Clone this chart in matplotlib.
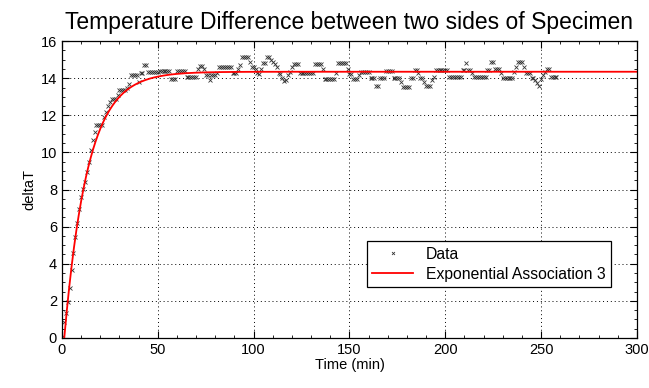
import numpy as np
import matplotlib
matplotlib.use("Agg")
import matplotlib.pyplot as plt
from matplotlib.ticker import MultipleLocator

# measured temperature difference, one reading per minute starting at t=0
delta_t = [
    0.07, 0.88, 1.33, 1.96, 2.68, 3.66, 4.56, 5.42, 6.21, 6.93,
    7.61, 8.01, 8.42, 8.96, 9.50, 10.13, 10.67, 11.10, 11.50, 11.50,
    11.50, 11.50, 11.90, 12.20, 12.50, 12.70, 12.86, 12.86, 12.86, 13.10,
    13.36, 13.36, 13.36, 13.36, 13.50, 13.70, 14.20, 14.20, 14.20, 14.20,
    13.80, 14.30, 14.30, 14.70, 14.70, 14.35, 14.35, 14.35, 14.35, 14.35,
    14.35, 14.40, 14.40, 14.40, 14.40, 14.40, 14.40, 13.95, 13.95, 13.95,
    14.40, 14.40, 14.40, 14.40, 14.40, 14.05, 14.05, 14.05, 14.05, 14.05,
    14.05, 14.50, 14.66, 14.66, 14.50, 14.20, 14.20, 13.90, 14.20, 14.20,
    14.20, 14.30, 14.60, 14.60, 14.60, 14.60, 14.60, 14.60, 14.60, 14.30,
    14.30, 14.30, 14.50, 14.70, 15.16, 15.16, 15.16, 15.16, 14.90, 14.60,
    14.60, 14.50, 14.30, 14.25, 14.50, 14.80, 14.80, 15.16, 15.16, 15.00,
    14.90, 14.75, 14.60, 14.30, 14.25, 14.00, 13.85, 13.90, 14.20, 14.35,
    14.60, 14.75, 14.75, 14.75, 14.30, 14.30, 14.30, 14.30, 14.30, 14.30,
    14.30, 14.30, 14.76, 14.76, 14.76, 14.76, 14.50, 13.94, 13.94, 13.94,
    13.94, 13.94, 13.94, 14.30, 14.80, 14.80, 14.80, 14.80, 14.80, 14.50,
    14.25, 14.25, 13.95, 13.95, 13.95, 14.20, 14.35, 14.35, 14.35, 14.35,
    14.35, 14.00, 14.00, 14.00, 13.60, 13.60, 14.00, 14.00, 14.00, 14.40,
    14.40, 14.40, 14.40, 14.00, 14.00, 14.00, 14.00, 13.80, 13.54, 13.54,
    13.54, 13.54, 14.00, 14.00, 14.44, 14.44, 14.26, 14.00, 14.00, 13.80,
    13.60, 13.60, 13.60, 13.90, 14.08, 14.44, 14.44, 14.44, 14.44, 14.44,
    14.44, 14.44, 14.04, 14.04, 14.04, 14.04, 14.04, 14.04, 14.04, 14.44,
    14.44, 14.80, 14.44, 14.44, 14.30, 14.04, 14.04, 14.04, 14.04, 14.04,
    14.04, 14.04, 14.44, 14.44, 14.90, 14.90, 14.50, 14.50, 14.50, 14.30,
    14.00, 14.00, 14.00, 14.00, 14.00, 14.00, 14.35, 14.60, 14.90, 14.90,
    14.90, 14.60, 14.27, 14.27, 14.27, 14.00, 14.00, 13.90, 13.75, 13.60,
    13.95, 14.20, 14.35, 14.50, 14.50, 14.04, 14.04, 14.04, 14.04,
]
time_min = np.arange(len(delta_t))

# exponential association 3 fit: y = a * (b - exp(-c * t))
fit_a = 15.83
fit_b = 0.9065
fit_c = 0.082
fit_t = np.linspace(0, 300, 1201)

plt.rcParams['font.family'] = ['Liberation Sans', 'DejaVu Sans']

fig = plt.figure(figsize=(6.49, 3.88), dpi=100)
ax = fig.add_axes([0.0955, 0.129, 0.886, 0.765])

ax.plot(time_min, delta_t, 'x', color='#333333', markersize=3, markeredgewidth=0.6,
        label='Data')
ax.plot(fit_t, fit_a * (fit_b - np.exp(-fit_c * fit_t)), color='#ff0000', lw=1.3,
        label='Exponential Association 3')

ax.set_xlim(0, 300)
ax.set_ylim(0, 16)
ax.xaxis.set_major_locator(MultipleLocator(50))
ax.xaxis.set_minor_locator(MultipleLocator(10))
ax.yaxis.set_major_locator(MultipleLocator(2))
ax.yaxis.set_minor_locator(MultipleLocator(0.5))
ax.tick_params(which='both', direction='in', top=True, right=True, labelsize=10.5)
ax.tick_params(which='major', length=5)
ax.tick_params(which='minor', length=2.5)
ax.grid(True, which='major', color='black', linestyle=(0, (1, 3)), lw=0.7)
for s in ax.spines.values():
    s.set_linewidth(0.9)

ax.set_xlabel('Time (min)', fontsize=10.5, labelpad=1)
ax.set_ylabel('deltaT', fontsize=10.5, labelpad=3)
ax.set_title('Temperature Difference between two sides of Specimen', fontsize=16.5, pad=9)

leg = ax.legend(loc='lower right', bbox_to_anchor=(0.968, 0.145), fontsize=11.3,
                fancybox=False, framealpha=1, edgecolor='black', borderpad=0.35,
                handlelength=2.6, markerscale=0.7, labelspacing=0.3)
leg.get_frame().set_linewidth(0.9)

fig.savefig('out.png', dpi=100)
